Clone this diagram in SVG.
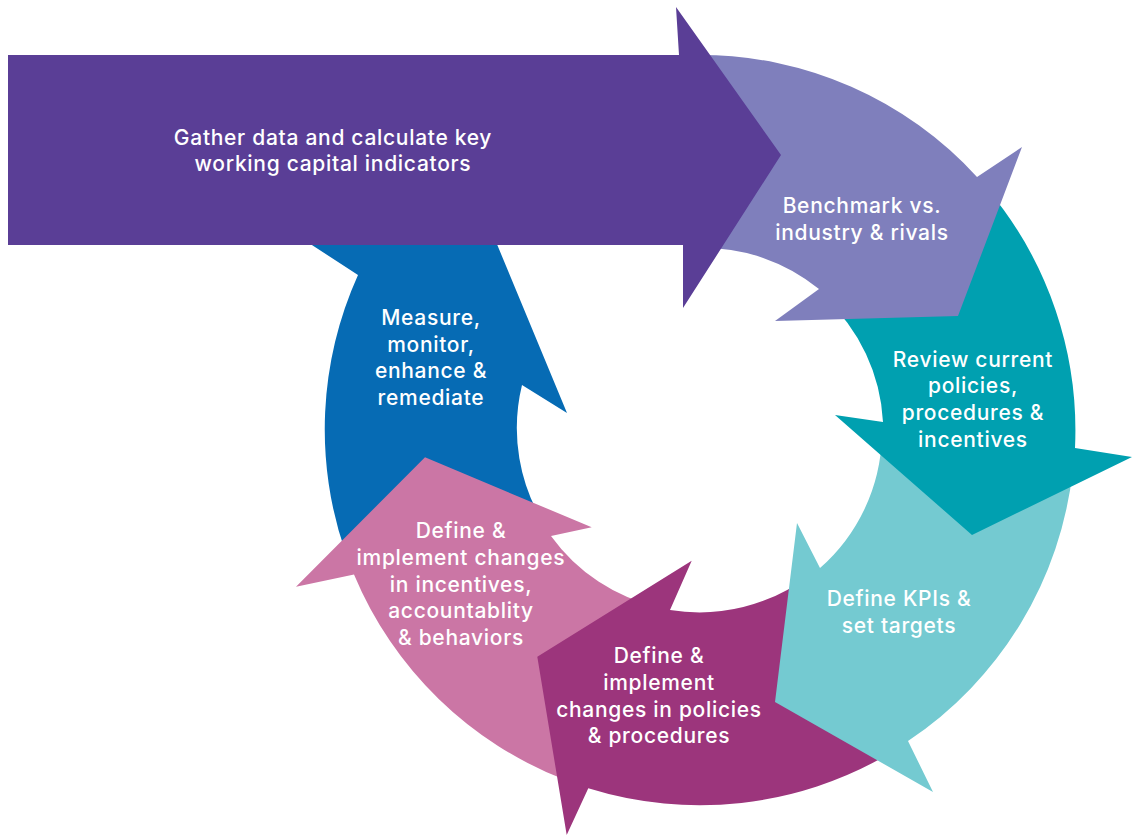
<svg xmlns="http://www.w3.org/2000/svg" width="1132" height="835" viewBox="0 0 1132 835">
<style>
.lbl{font-family:Inter,"Open Sans","Liberation Sans",sans-serif;font-size:21px;font-weight:500;letter-spacing:0.7px;fill:#ffffff;text-anchor:middle}
</style>
<rect width="1132" height="835" fill="#ffffff"/>
<g id="measure">
<path d="M345.4,552.1 A375,375 0 0 1 358,275 L295,234 L494,237 L567,413 L522,385 A182,182 0 0 0 545.7,526.4 Z" fill="#066BB4"/>
<text class="lbl"><tspan x="431" y="325">Measure,</tspan><tspan x="431" y="352">monitor,</tspan><tspan x="431" y="378">enhance &amp;</tspan><tspan x="431" y="405">remediate</tspan></text>
</g>
<g id="incentives">
<path d="M565.6,780.1 A375,375 0 0 1 354,574.4 L296,586.7 L425,457.3 L591.7,527.3 L551,536 A182,182 0 0 0 659.1,607.3 Z" fill="#CB76A5"/>
<text class="lbl"><tspan x="461" y="538">Define &amp;</tspan><tspan x="461" y="565">implement changes</tspan><tspan x="461" y="592">in incentives,</tspan><tspan x="461" y="618">accountablity</tspan><tspan x="461" y="645">&amp; behaviors</tspan></text>
</g>
<g id="policies">
<path d="M887.5,754.8 A375,375 0 0 1 588.3,788.3 L566.7,835 L537.3,656.7 L691.7,560.7 L670,610 A182,182 0 0 0 809.5,575.4 Z" fill="#9C357C"/>
<text class="lbl"><tspan x="659" y="663">Define &amp;</tspan><tspan x="659" y="690">implement</tspan><tspan x="659" y="717">changes in policies</tspan><tspan x="659" y="743">&amp; procedures</tspan></text>
</g>
<g id="kpis">
<path d="M1072.9,469.2 A375,375 0 0 1 908,741 L933,792 L775,702 L797,523 L820,568 A182,182 0 0 0 881.9,436.4 Z" fill="#74CAD1"/>
<text class="lbl"><tspan x="899" y="606">Define KPIs &amp;</tspan><tspan x="899" y="633">set targets</tspan></text>
</g>
<g id="review">
<path d="M987.3,189 A375,375 0 0 1 1075,448 L1132,457 L972,535 L835,415 L883,422 A182,182 0 0 0 824.1,296.9 Z" fill="#00A0B0"/>
<text class="lbl"><tspan x="973" y="367">Review current</tspan><tspan x="973" y="393">policies,</tspan><tspan x="973" y="420">procedures &amp;</tspan><tspan x="973" y="447">incentives</tspan></text>
</g>
<g id="benchmark">
<path d="M700,55 A375,375 0 0 1 977,177 L1022,147 L958,316 L775,321 L819,289 A182,182 0 0 0 700,248 Z" fill="#7F7FBC"/>
<text class="lbl"><tspan x="862" y="213">Benchmark vs.</tspan><tspan x="862" y="240">industry &amp; rivals</tspan></text>
</g>
<g id="gather">
<path d="M8,55 L679,55 L676,7 L781,155 L683,308 L683,245 L8,245 Z" fill="#5A3E96"/>
<text class="lbl"><tspan x="333" y="145">Gather data and calculate key</tspan><tspan x="333" y="171">working capital indicators</tspan></text>
</g>
<g id="connectors"></g>
</svg>
